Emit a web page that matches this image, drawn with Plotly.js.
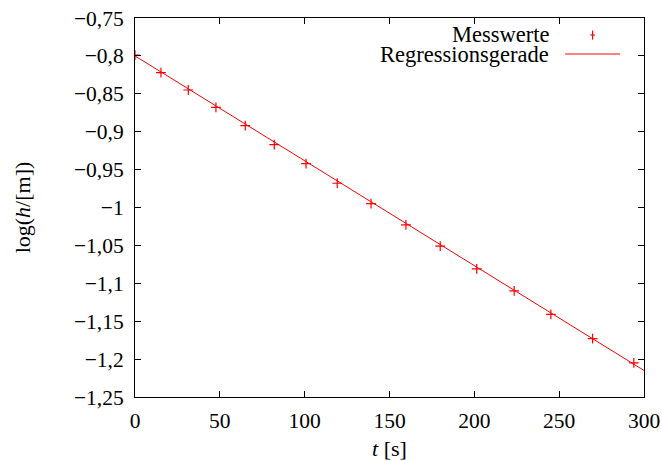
<!DOCTYPE html>
<html>
<head>
<meta charset="utf-8">
<script src="https://cdn.plot.ly/plotly-3.0.1.min.js"></script>
<style>html,body{margin:0;padding:0;background:#fff;}#chart{width:662px;height:461px;}</style>
</head>
<body>
<div id="chart"></div>
<script>
// measured values
const timeS = [0, 15.3, 31.4, 47.7, 65.0, 82.1, 100.8, 119.2, 139.1, 159.7, 179.9, 201.4, 223.5, 245.1, 269.7, 294.0];
const logH  = [-0.799, -0.822, -0.845, -0.868, -0.892, -0.917, -0.942, -0.968, -0.995, -1.023, -1.051, -1.081, -1.110, -1.141, -1.173, -1.205];
// regression line endpoints
const fitT = [0, 300];
const fitY = [-0.800, -1.215];
// tick labels
const xTickVals = [0, 50, 100, 150, 200, 250, 300];
const xTickText = ["0", "50", "100", "150", "200", "250", "300"];
const yTickVals = [-0.75, -0.8, -0.85, -0.9, -0.95, -1.0, -1.05, -1.1, -1.15, -1.2, -1.25];
const yTickText = ["\u22120,75", "\u22120,8", "\u22120,85", "\u22120,9", "\u22120,95", "\u22121", "\u22121,05", "\u22121,1", "\u22121,15", "\u22121,2", "\u22121,25"];
const legendLabels = ["Messwerte", "Regressionsgerade"];

const FONT = "Liberation Serif";
const RED = "#ff0000";

const traces = [
  {
    x: fitT, y: fitY, mode: "lines", name: legendLabels[1],
    line: {color: RED, width: 1}, hoverinfo: "skip"
  },
  {
    x: timeS, y: logH, mode: "markers", name: legendLabels[0],
    marker: {symbol: "cross-thin", size: 7, color: RED, line: {color: RED, width: 1.2}}
  }
];

const axisCommon = {
  showline: true, mirror: "ticks", linecolor: "#000", linewidth: 1,
  ticks: "inside", ticklen: 6, tickcolor: "#000", tickwidth: 1,
  showgrid: false, zeroline: false,
  tickfont: {family: FONT, size: 21.5, color: "#000"},
  tickmode: "array"
};

const layout = {
  width: 662, height: 461,
  margin: {l: 135, r: 18, t: 18, b: 64},
  paper_bgcolor: "#fff", plot_bgcolor: "#fff",
  showlegend: false,
  font: {family: FONT, size: 21, color: "#000"},
  xaxis: Object.assign({}, axisCommon, {
    range: [0, 300], tickvals: xTickVals, ticktext: xTickText,
    ticklabelstandoff: 4,
    title: {text: "<i>t</i> [s]", font: {family: FONT, size: 22, color: "#000"}, standoff: 9}
  }),
  yaxis: Object.assign({}, axisCommon, {
    range: [-1.25, -0.75], tickvals: yTickVals, ticktext: yTickText,
    ticklabelstandoff: 6,
    title: {text: "log(<i>h</i>/[m])", font: {family: FONT, size: 22, color: "#000"}, standoff: 37}
  }),
  annotations: [
    {xref: "paper", yref: "paper", x: 0.817, y: 0.957, xanchor: "right", yanchor: "middle",
     text: legendLabels[0], showarrow: false, font: {family: FONT, size: 22.5, color: "#000"}},
    {xref: "paper", yref: "paper", x: 0.817, y: 0.903, xanchor: "right", yanchor: "middle",
     text: legendLabels[1], showarrow: false, font: {family: FONT, size: 22.5, color: "#000"}}
  ],
  shapes: [
    {type: "line", xref: "paper", yref: "paper", x0: 0.845, x1: 0.953, y0: 0.905, y1: 0.905,
     line: {color: RED, width: 1}},
    {type: "line", xref: "paper", yref: "paper", x0: 0.8945, x1: 0.9035, y0: 0.955, y1: 0.955,
     line: {color: RED, width: 1.2}},
    {type: "line", xref: "paper", yref: "paper", x0: 0.899, x1: 0.899, y0: 0.943, y1: 0.967,
     line: {color: RED, width: 1.2}}
  ]
};

Plotly.newPlot("chart", traces, layout, {staticPlot: true, displayModeBar: false});
</script>
</body>
</html>
